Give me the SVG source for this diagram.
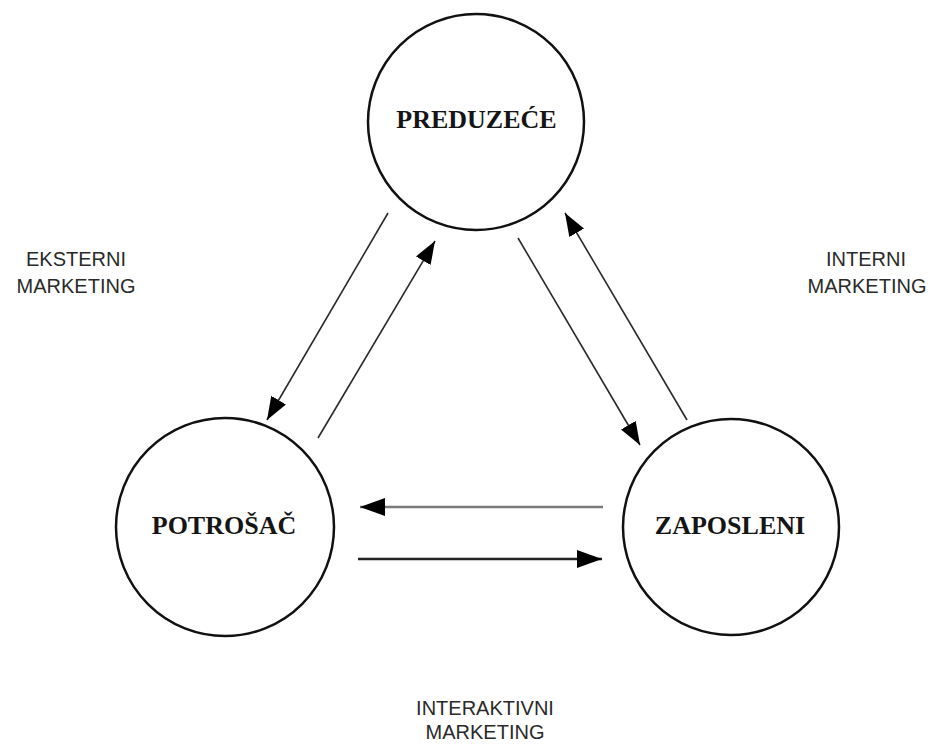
<svg xmlns="http://www.w3.org/2000/svg" width="934" height="744" viewBox="0 0 934 744">
  <style>
    .node circle { fill: #ffffff; stroke: #111111; stroke-width: 2.5; }
    .node text { font-family: "Liberation Serif", "Times New Roman", serif; font-weight: bold; font-size: 26px; fill: #151515; text-anchor: middle; }
    .label { font-family: "Liberation Sans", Arial, sans-serif; font-size: 20px; fill: #2a2a2a; text-anchor: middle; }
    .diag { stroke: #2a2a2a; stroke-width: 1.6; fill: none; }
    .horiz { stroke-width: 2.5; fill: none; }
  </style>
  <defs>
    <marker id="headSmall" markerUnits="userSpaceOnUse" markerWidth="26" markerHeight="20" refX="23" refY="8.5" orient="auto">
      <path d="M0,0 L23,8.5 L0,17 Z" fill="#000"/>
    </marker>
    <marker id="headLarge" markerUnits="userSpaceOnUse" markerWidth="28" markerHeight="20" refX="25" refY="9" orient="auto">
      <path d="M0,0 L25,9 L0,18 Z" fill="#000"/>
    </marker>
  </defs>

  <rect width="934" height="744" fill="#ffffff"/>

  <!-- nodes -->
  <g id="preduzece" class="node">
    <circle cx="476" cy="122" r="108"/>
    <text x="476.5" y="128">PREDUZEĆE</text>
  </g>
  <g id="potrosac" class="node">
    <circle cx="225" cy="527" r="109"/>
    <text x="224" y="534">POTROŠAČ</text>
  </g>
  <g id="zaposleni" class="node">
    <circle cx="731" cy="527" r="108"/>
    <text x="730" y="534">ZAPOSLENI</text>
  </g>

  <!-- connectors -->
  <g id="connectors">
    <line class="diag" x1="388" y1="213" x2="267" y2="420" marker-end="url(#headSmall)"/>
    <line class="diag" x1="318" y1="438" x2="435" y2="241" marker-end="url(#headSmall)"/>
    <line class="diag" x1="518" y1="238" x2="640" y2="445" marker-end="url(#headSmall)"/>
    <line class="diag" x1="687" y1="420" x2="565" y2="213" marker-end="url(#headSmall)"/>
    <line class="horiz" x1="603" y1="507" x2="360" y2="507" stroke="#7a7a7a" stroke-width="3" marker-end="url(#headLarge)"/>
    <line class="horiz" x1="358" y1="559" x2="602" y2="559" stroke="#222222" marker-end="url(#headLarge)"/>
  </g>

  <!-- labels -->
  <g id="labels">
    <text class="label" x="76" y="266">EKSTERNI</text>
    <text class="label" x="76" y="293">MARKETING</text>
    <text class="label" x="866" y="266">INTERNI</text>
    <text class="label" x="867" y="293">MARKETING</text>
    <text class="label" x="485" y="715">INTERAKTIVNI</text>
    <text class="label" x="485" y="739">MARKETING</text>
  </g>
</svg>
